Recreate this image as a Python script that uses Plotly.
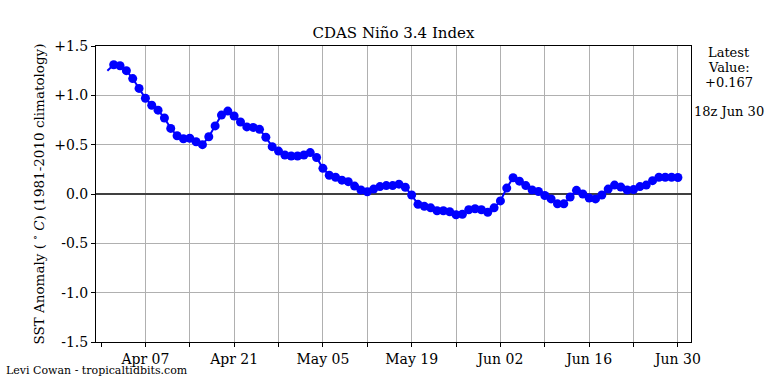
import plotly.graph_objects as go
import pandas as pd

# Daily CDAS Nino 3.4 anomaly values (deg C), Apr 1 .. Jun 30 2024
dates = pd.date_range("2024-04-01", "2024-06-30", freq="D")
values = [1.25,
          1.31, 1.30, 1.25, 1.17, 1.07, 0.97, 0.90, 0.85, 0.77, 0.665,
          0.59, 0.56, 0.565, 0.53, 0.50, 0.58, 0.69, 0.80, 0.84, 0.79,
          0.73, 0.68, 0.675, 0.655, 0.575, 0.48, 0.435, 0.395, 0.385, 0.385,
          0.395, 0.42, 0.37, 0.26, 0.19, 0.17, 0.14, 0.125, 0.08, 0.04,
          0.023, 0.05, 0.075, 0.085, 0.085, 0.10, 0.068, -0.01, -0.105, -0.125,
          -0.14, -0.17, -0.17, -0.18, -0.21, -0.205, -0.16, -0.15, -0.16, -0.185,
          -0.14, -0.07, 0.06, 0.165, 0.13, 0.085, 0.04, 0.025, -0.015, -0.05,
          -0.10, -0.10, -0.03, 0.037, 0.00, -0.04, -0.05, -0.01, 0.05, 0.09,
          0.07, 0.04, 0.045, 0.075, 0.09, 0.135, 0.17, 0.17, 0.17, 0.167]
marker_sizes = [0] + [9] * (len(values) - 1)

y_tickvals = [1.5, 1.0, 0.5, 0.0, -0.5, -1.0, -1.5]
y_ticktext = ["+1.5", "+1.0", "+0.5", "0.0", "-0.5", "-1.0", "-1.5"]

x_tickvals = pd.date_range("2024-04-07", "2024-06-30", freq="7D")
x_ticktext = [d.strftime("%b %d") if i % 2 == 0 else "" for i, d in enumerate(x_tickvals)]
x_minor = ["2024-03-31"]

FONT = "'DejaVu Serif', 'Liberation Serif', serif"

W, H = 768, 384
L, T, R, B = 96, 46, 691, 342   # plot area in figure px

def px_x(x):
    return (x - L) / (R - L)

def px_y(y):
    return (B - y) / (B - T)

fig = go.Figure()
fig.add_trace(go.Scatter(
    x=dates, y=values, mode="lines+markers",
    line=dict(color="#0000FF", width=2),
    marker=dict(color="#0000FF", size=marker_sizes, opacity=1, line=dict(width=0)),
    showlegend=False, hoverinfo="x+y",
))

fig.update_layout(
    width=W, height=H,
    margin=dict(l=L, r=W - R, t=T, b=H - B, autoexpand=False),
    paper_bgcolor="white", plot_bgcolor="white",
    font=dict(family=FONT, color="black", size=14),
    title=dict(text="CDAS Niño 3.4 Index", x=393.5 / W, xanchor="center",
               y=1 - 33 / H, yanchor="middle", font=dict(size=15, family=FONT)),
    xaxis=dict(
        range=["2024-03-30 05:00", "2024-07-02 01:30"],
        automargin=False,
        tickmode="array", tickvals=x_tickvals, ticktext=x_ticktext,
        ticks="outside", ticklen=4, tickwidth=1, tickcolor="black",
        showgrid=True, gridcolor="#b0b0b0", gridwidth=1,
        showline=True, linecolor="black", linewidth=1, mirror=True,
        zeroline=False,
        minor=dict(tickmode="array", tickvals=x_minor, ticks="outside",
                   ticklen=4, tickwidth=1, tickcolor="black", showgrid=False),
        tickfont=dict(size=14, family=FONT),
    ),
    yaxis=dict(
        range=[-1.5, 1.5],
        automargin=False,
        tickmode="array", tickvals=y_tickvals, ticktext=y_ticktext,
        ticks="outside", ticklen=4, tickwidth=1, tickcolor="black",
        showgrid=True, gridcolor="#b0b0b0", gridwidth=1,
        showline=True, linecolor="black", linewidth=1, mirror=True,
        zeroline=True, zerolinecolor="#404040", zerolinewidth=1.5,
        tickfont=dict(size=14, family=FONT),
        title=dict(text="SST Anomaly ( <sup>∘</sup> <i>C</i>) (1981-2010 climatology)",
                   font=dict(size=13.5, family=FONT), standoff=6),
    ),
)

right_lines = [("Latest", 52), ("Value:", 67), ("+0.167", 82), ("18z Jun 30", 111)]
for txt, ypx in right_lines:
    fig.add_annotation(text=txt, xref="paper", yref="paper",
                       x=px_x(729), y=px_y(ypx),
                       xanchor="center", yanchor="middle", showarrow=False,
                       font=dict(size=13, family=FONT))

fig.add_annotation(text="Levi Cowan - tropicaltidbits.com", xref="paper", yref="paper",
                   x=px_x(4), y=px_y(370),
                   xanchor="left", yanchor="middle", showarrow=False,
                   font=dict(size=11, family=FONT))

fig.write_html("out.html",
               config={"displayModeBar": False},
               post_script="document.body.style.margin='0';document.body.style.padding='0';")
